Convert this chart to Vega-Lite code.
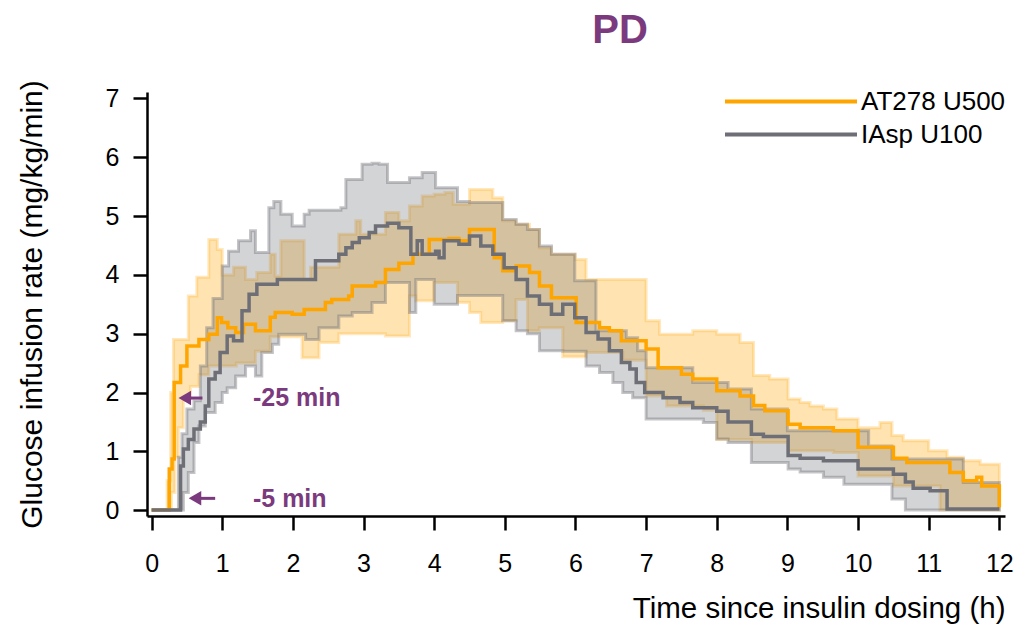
{
  "$schema": "https://vega.github.io/schema/vega-lite/v6.json",
  "width": 858,
  "height": 424,
  "autosize": {"type": "none"},
  "padding": {"left": 147, "top": 92, "right": 12, "bottom": 112},
  "background": "white",
  "config": {
    "view": {"stroke": null},
    "font": "Liberation Sans",
    "axis": {
      "domainColor": "black", "domainWidth": 2.5, "tickColor": "black", "tickWidth": 2.5,
      "tickSize": 14, "labelFontSize": 25, "labelColor": "black", "labelFont": "Liberation Sans",
      "titleFont": "Liberation Sans", "titleFontWeight": "normal", "titleColor": "black", "grid": false
    },
    "legend": {
      "orient": "none", "legendX": 576, "legendY": -6, "title": null,
      "symbolType": "M-1,0L1,0", "symbolSize": 17424, "symbolStrokeWidth": 4, "clipHeight": 31,
      "rowPadding": 2, "labelFontSize": 26, "labelFont": "Liberation Sans", "labelColor": "black",
      "labelOffset": 2, "padding": 0
    }
  },
  "title": {
    "text": "PD", "fontSize": 40, "fontWeight": "bold", "color": "#7B3A7E", "font": "Liberation Sans",
    "anchor": "middle", "frame": "group", "dx": 44, "offset": -3, "baseline": "alphabetic"
  },
  "datasets": {
    "mean": [
      {"g":"AT278 U500","t":0,"v":0},{"g":"AT278 U500","t":0.25,"v":0.7},{"g":"AT278 U500","t":0.29,"v":0.87},
      {"g":"AT278 U500","t":0.32,"v":2.17},{"g":"AT278 U500","t":0.41,"v":2.45},{"g":"AT278 U500","t":0.5,"v":2.79},
      {"g":"AT278 U500","t":0.67,"v":2.9},{"g":"AT278 U500","t":0.81,"v":2.99},{"g":"AT278 U500","t":0.93,"v":3.27},
      {"g":"AT278 U500","t":0.99,"v":3.19},{"g":"AT278 U500","t":1.08,"v":3.1},{"g":"AT278 U500","t":1.19,"v":3.02},
      {"g":"AT278 U500","t":1.3,"v":3.16},{"g":"AT278 U500","t":1.47,"v":3.05},{"g":"AT278 U500","t":1.68,"v":3.28},
      {"g":"AT278 U500","t":1.75,"v":3.36},{"g":"AT278 U500","t":1.99,"v":3.33},{"g":"AT278 U500","t":2.16,"v":3.41},
      {"g":"AT278 U500","t":2.46,"v":3.53},{"g":"AT278 U500","t":2.55,"v":3.58},{"g":"AT278 U500","t":2.79,"v":3.64},
      {"g":"AT278 U500","t":2.84,"v":3.81},{"g":"AT278 U500","t":3.17,"v":3.87},{"g":"AT278 U500","t":3.31,"v":4.09},
      {"g":"AT278 U500","t":3.5,"v":4.2},{"g":"AT278 U500","t":3.7,"v":4.35},{"g":"AT278 U500","t":3.93,"v":4.6},
      {"g":"AT278 U500","t":4.21,"v":4.62},{"g":"AT278 U500","t":4.35,"v":4.58},{"g":"AT278 U500","t":4.5,"v":4.77},
      {"g":"AT278 U500","t":4.85,"v":4.29},{"g":"AT278 U500","t":4.97,"v":4.07},{"g":"AT278 U500","t":5.16,"v":4.15},
      {"g":"AT278 U500","t":5.35,"v":4.04},{"g":"AT278 U500","t":5.49,"v":3.81},{"g":"AT278 U500","t":5.66,"v":3.61},
      {"g":"AT278 U500","t":6.01,"v":3.19},{"g":"AT278 U500","t":6.34,"v":3.1},{"g":"AT278 U500","t":6.48,"v":3.05},
      {"g":"AT278 U500","t":6.65,"v":2.88},{"g":"AT278 U500","t":7.0,"v":2.74},{"g":"AT278 U500","t":7.17,"v":2.42},
      {"g":"AT278 U500","t":7.5,"v":2.31},{"g":"AT278 U500","t":7.66,"v":2.23},{"g":"AT278 U500","t":8.0,"v":2.03},
      {"g":"AT278 U500","t":8.33,"v":1.94},{"g":"AT278 U500","t":8.52,"v":1.78},{"g":"AT278 U500","t":8.68,"v":1.69},
      {"g":"AT278 U500","t":9.01,"v":1.46},{"g":"AT278 U500","t":9.18,"v":1.4},{"g":"AT278 U500","t":9.65,"v":1.35},
      {"g":"AT278 U500","t":10.0,"v":1.07},{"g":"AT278 U500","t":10.5,"v":0.88},{"g":"AT278 U500","t":10.69,"v":0.81},
      {"g":"AT278 U500","t":11.3,"v":0.64},{"g":"AT278 U500","t":11.49,"v":0.5},{"g":"AT278 U500","t":11.68,"v":0.56},
      {"g":"AT278 U500","t":11.75,"v":0.41},{"g":"AT278 U500","t":12.0,"v":0.05},
      {"g":"IAsp U100","t":0,"v":0},{"g":"IAsp U100","t":0.41,"v":0.75},{"g":"IAsp U100","t":0.45,"v":1.04},
      {"g":"IAsp U100","t":0.52,"v":1.2},{"g":"IAsp U100","t":0.6,"v":1.38},{"g":"IAsp U100","t":0.69,"v":1.5},
      {"g":"IAsp U100","t":0.76,"v":1.77},{"g":"IAsp U100","t":0.81,"v":2.23},{"g":"IAsp U100","t":0.9,"v":2.34},
      {"g":"IAsp U100","t":0.97,"v":2.68},{"g":"IAsp U100","t":1.07,"v":2.96},{"g":"IAsp U100","t":1.16,"v":2.88},
      {"g":"IAsp U100","t":1.28,"v":3.39},{"g":"IAsp U100","t":1.38,"v":3.67},{"g":"IAsp U100","t":1.49,"v":3.84},
      {"g":"IAsp U100","t":1.78,"v":3.92},{"g":"IAsp U100","t":2.32,"v":4.24},{"g":"IAsp U100","t":2.65,"v":4.35},
      {"g":"IAsp U100","t":2.75,"v":4.46},{"g":"IAsp U100","t":2.84,"v":4.55},{"g":"IAsp U100","t":2.94,"v":4.63},
      {"g":"IAsp U100","t":3.08,"v":4.72},{"g":"IAsp U100","t":3.17,"v":4.83},{"g":"IAsp U100","t":3.34,"v":4.88},
      {"g":"IAsp U100","t":3.5,"v":4.8},{"g":"IAsp U100","t":3.67,"v":4.35},{"g":"IAsp U100","t":3.76,"v":4.58},
      {"g":"IAsp U100","t":3.83,"v":4.35},{"g":"IAsp U100","t":4.02,"v":4.4},{"g":"IAsp U100","t":4.07,"v":4.29},
      {"g":"IAsp U100","t":4.14,"v":4.58},{"g":"IAsp U100","t":4.35,"v":4.52},{"g":"IAsp U100","t":4.5,"v":4.66},
      {"g":"IAsp U100","t":4.66,"v":4.49},{"g":"IAsp U100","t":4.83,"v":4.35},{"g":"IAsp U100","t":4.99,"v":4.12},
      {"g":"IAsp U100","t":5.16,"v":3.92},{"g":"IAsp U100","t":5.32,"v":3.64},{"g":"IAsp U100","t":5.49,"v":3.5},
      {"g":"IAsp U100","t":5.66,"v":3.33},{"g":"IAsp U100","t":5.82,"v":3.5},{"g":"IAsp U100","t":5.99,"v":3.27},
      {"g":"IAsp U100","t":6.15,"v":3.02},{"g":"IAsp U100","t":6.32,"v":2.91},{"g":"IAsp U100","t":6.48,"v":2.71},
      {"g":"IAsp U100","t":6.65,"v":2.51},{"g":"IAsp U100","t":6.77,"v":2.4},{"g":"IAsp U100","t":6.86,"v":2.17},
      {"g":"IAsp U100","t":6.98,"v":2.0},{"g":"IAsp U100","t":7.24,"v":1.91},{"g":"IAsp U100","t":7.48,"v":1.83},
      {"g":"IAsp U100","t":7.66,"v":1.74},{"g":"IAsp U100","t":8.0,"v":1.68},{"g":"IAsp U100","t":8.16,"v":1.5},
      {"g":"IAsp U100","t":8.49,"v":1.29},{"g":"IAsp U100","t":8.66,"v":1.25},{"g":"IAsp U100","t":9.01,"v":0.93},
      {"g":"IAsp U100","t":9.18,"v":0.88},{"g":"IAsp U100","t":9.51,"v":0.84},{"g":"IAsp U100","t":10.0,"v":0.7},
      {"g":"IAsp U100","t":10.5,"v":0.61},{"g":"IAsp U100","t":10.67,"v":0.48},{"g":"IAsp U100","t":10.78,"v":0.37},
      {"g":"IAsp U100","t":11.02,"v":0.33},{"g":"IAsp U100","t":11.26,"v":0.02},{"g":"IAsp U100","t":12.0,"v":0.02}
    ],
    "band": [
      {"g":"AT278 U500","t":0,"lo":0,"hi":0},{"g":"AT278 U500","t":0.22,"lo":0,"hi":0.5},{"g":"AT278 U500","t":0.27,"lo":0,"hi":2.0},
      {"g":"AT278 U500","t":0.28,"lo":0.3,"hi":2.0},{"g":"AT278 U500","t":0.31,"lo":0.3,"hi":2.9},{"g":"AT278 U500","t":0.33,"lo":0.9,"hi":2.9},
      {"g":"AT278 U500","t":0.38,"lo":1.4,"hi":2.9},{"g":"AT278 U500","t":0.45,"lo":1.9,"hi":2.9},{"g":"AT278 U500","t":0.52,"lo":1.9,"hi":3.64},
      {"g":"AT278 U500","t":0.55,"lo":2.1,"hi":3.64},{"g":"AT278 U500","t":0.64,"lo":2.1,"hi":3.96},{"g":"AT278 U500","t":0.67,"lo":2.3,"hi":3.96},
      {"g":"AT278 U500","t":0.81,"lo":2.45,"hi":4.6},{"g":"AT278 U500","t":0.93,"lo":2.45,"hi":4.43},{"g":"AT278 U500","t":1.0,"lo":2.45,"hi":4.0},
      {"g":"AT278 U500","t":1.16,"lo":2.45,"hi":4.13},{"g":"AT278 U500","t":1.2,"lo":2.5,"hi":4.13},{"g":"AT278 U500","t":1.33,"lo":2.5,"hi":3.92},
      {"g":"AT278 U500","t":1.47,"lo":2.7,"hi":3.92},{"g":"AT278 U500","t":1.49,"lo":2.7,"hi":4.04},{"g":"AT278 U500","t":1.68,"lo":2.95,"hi":4.35},
      {"g":"AT278 U500","t":1.75,"lo":2.95,"hi":3.98},{"g":"AT278 U500","t":1.83,"lo":2.95,"hi":4.58},{"g":"AT278 U500","t":2.13,"lo":2.59,"hi":4.58},
      {"g":"AT278 U500","t":2.16,"lo":2.59,"hi":3.92},{"g":"AT278 U500","t":2.25,"lo":2.59,"hi":4.13},{"g":"AT278 U500","t":2.37,"lo":2.85,"hi":4.13},
      {"g":"AT278 U500","t":2.65,"lo":3.0,"hi":4.69},{"g":"AT278 U500","t":2.89,"lo":3.0,"hi":4.92},{"g":"AT278 U500","t":2.96,"lo":3.0,"hi":4.69},
      {"g":"AT278 U500","t":3.31,"lo":2.96,"hi":5.06},{"g":"AT278 U500","t":3.5,"lo":2.96,"hi":4.92},{"g":"AT278 U500","t":3.65,"lo":3.64,"hi":5.17},
      {"g":"AT278 U500","t":3.74,"lo":3.56,"hi":5.17},{"g":"AT278 U500","t":3.83,"lo":3.56,"hi":5.34},{"g":"AT278 U500","t":4.0,"lo":3.87,"hi":5.37},
      {"g":"AT278 U500","t":4.15,"lo":3.87,"hi":5.4},{"g":"AT278 U500","t":4.27,"lo":3.87,"hi":5.2},{"g":"AT278 U500","t":4.33,"lo":3.53,"hi":5.2},
      {"g":"AT278 U500","t":4.5,"lo":3.36,"hi":5.45},{"g":"AT278 U500","t":4.66,"lo":3.19,"hi":5.45},{"g":"AT278 U500","t":4.83,"lo":3.19,"hi":5.31},
      {"g":"AT278 U500","t":4.97,"lo":3.22,"hi":4.92},{"g":"AT278 U500","t":5.16,"lo":3.58,"hi":4.86},{"g":"AT278 U500","t":5.32,"lo":3.05,"hi":4.86},
      {"g":"AT278 U500","t":5.35,"lo":3.05,"hi":4.77},{"g":"AT278 U500","t":5.49,"lo":3.1,"hi":4.46},{"g":"AT278 U500","t":5.66,"lo":3.1,"hi":4.35},
      {"g":"AT278 U500","t":5.82,"lo":2.61,"hi":4.35},{"g":"AT278 U500","t":6.0,"lo":2.61,"hi":4.26},{"g":"AT278 U500","t":6.15,"lo":2.68,"hi":3.92},
      {"g":"AT278 U500","t":6.67,"lo":2.55,"hi":3.92},{"g":"AT278 U500","t":7.0,"lo":1.94,"hi":3.22},{"g":"AT278 U500","t":7.19,"lo":1.94,"hi":2.99},
      {"g":"AT278 U500","t":7.29,"lo":1.77,"hi":2.99},{"g":"AT278 U500","t":7.66,"lo":1.77,"hi":3.05},{"g":"AT278 U500","t":7.81,"lo":1.7,"hi":3.05},
      {"g":"AT278 U500","t":8.0,"lo":1.2,"hi":2.99},{"g":"AT278 U500","t":8.33,"lo":1.2,"hi":2.85},{"g":"AT278 U500","t":8.49,"lo":1.15,"hi":2.85},
      {"g":"AT278 U500","t":8.52,"lo":1.15,"hi":2.29},{"g":"AT278 U500","t":8.75,"lo":1.15,"hi":2.23},{"g":"AT278 U500","t":9.01,"lo":1.01,"hi":1.89},
      {"g":"AT278 U500","t":9.18,"lo":1.01,"hi":1.83},{"g":"AT278 U500","t":9.32,"lo":1.01,"hi":1.77},{"g":"AT278 U500","t":9.51,"lo":1.01,"hi":1.72},
      {"g":"AT278 U500","t":9.65,"lo":0.98,"hi":1.72},{"g":"AT278 U500","t":9.7,"lo":0.98,"hi":1.55},{"g":"AT278 U500","t":10.0,"lo":0.58,"hi":1.4},
      {"g":"AT278 U500","t":10.31,"lo":0.58,"hi":1.49},{"g":"AT278 U500","t":10.48,"lo":0.58,"hi":1.27},{"g":"AT278 U500","t":10.5,"lo":0.41,"hi":1.27},
      {"g":"AT278 U500","t":10.64,"lo":0.41,"hi":1.18},{"g":"AT278 U500","t":11.0,"lo":0.41,"hi":1.01},{"g":"AT278 U500","t":11.16,"lo":0,"hi":1.01},
      {"g":"AT278 U500","t":11.26,"lo":0,"hi":0.9},{"g":"AT278 U500","t":11.49,"lo":0,"hi":0.84},{"g":"AT278 U500","t":11.73,"lo":0,"hi":0.78},
      {"g":"AT278 U500","t":12.0,"lo":0,"hi":0.78},
      {"g":"IAsp U100","t":0,"lo":0,"hi":0},{"g":"IAsp U100","t":0.38,"lo":0,"hi":0.9},{"g":"IAsp U100","t":0.43,"lo":0,"hi":1.3},
      {"g":"IAsp U100","t":0.45,"lo":0.3,"hi":1.3},{"g":"IAsp U100","t":0.5,"lo":0.3,"hi":1.72},{"g":"IAsp U100","t":0.52,"lo":0.64,"hi":1.72},
      {"g":"IAsp U100","t":0.6,"lo":1.15,"hi":1.86},{"g":"IAsp U100","t":0.67,"lo":1.43,"hi":1.86},{"g":"IAsp U100","t":0.69,"lo":1.43,"hi":2.45},
      {"g":"IAsp U100","t":0.76,"lo":1.66,"hi":2.45},{"g":"IAsp U100","t":0.78,"lo":1.66,"hi":3.1},{"g":"IAsp U100","t":0.87,"lo":1.66,"hi":3.6},
      {"g":"IAsp U100","t":0.9,"lo":1.83,"hi":3.6},{"g":"IAsp U100","t":1.0,"lo":2.0,"hi":4.15},{"g":"IAsp U100","t":1.07,"lo":2.08,"hi":4.15},
      {"g":"IAsp U100","t":1.09,"lo":2.08,"hi":4.4},{"g":"IAsp U100","t":1.19,"lo":2.28,"hi":4.4},{"g":"IAsp U100","t":1.23,"lo":2.28,"hi":4.58},
      {"g":"IAsp U100","t":1.33,"lo":2.45,"hi":4.58},{"g":"IAsp U100","t":1.4,"lo":2.45,"hi":4.75},{"g":"IAsp U100","t":1.47,"lo":2.28,"hi":4.38},
      {"g":"IAsp U100","t":1.56,"lo":2.68,"hi":4.38},{"g":"IAsp U100","t":1.66,"lo":2.68,"hi":5.14},{"g":"IAsp U100","t":1.71,"lo":2.82,"hi":5.14},
      {"g":"IAsp U100","t":1.73,"lo":2.82,"hi":5.25},{"g":"IAsp U100","t":1.8,"lo":2.99,"hi":5.25},{"g":"IAsp U100","t":1.83,"lo":2.99,"hi":5.03},
      {"g":"IAsp U100","t":1.99,"lo":2.99,"hi":4.83},{"g":"IAsp U100","t":2.16,"lo":2.99,"hi":5.03},{"g":"IAsp U100","t":2.18,"lo":2.9,"hi":5.03},
      {"g":"IAsp U100","t":2.23,"lo":2.9,"hi":5.1},{"g":"IAsp U100","t":2.37,"lo":3.1,"hi":5.1},{"g":"IAsp U100","t":2.65,"lo":3.3,"hi":5.1},
      {"g":"IAsp U100","t":2.68,"lo":3.3,"hi":5.14},{"g":"IAsp U100","t":2.75,"lo":3.3,"hi":5.62},{"g":"IAsp U100","t":2.84,"lo":3.36,"hi":5.62},
      {"g":"IAsp U100","t":2.98,"lo":3.36,"hi":5.88},{"g":"IAsp U100","t":3.12,"lo":3.53,"hi":5.9},{"g":"IAsp U100","t":3.22,"lo":3.53,"hi":5.88},
      {"g":"IAsp U100","t":3.31,"lo":3.87,"hi":5.88},{"g":"IAsp U100","t":3.34,"lo":3.87,"hi":5.57},{"g":"IAsp U100","t":3.65,"lo":3.36,"hi":5.65},
      {"g":"IAsp U100","t":3.74,"lo":3.92,"hi":5.65},{"g":"IAsp U100","t":3.83,"lo":3.92,"hi":5.74},{"g":"IAsp U100","t":4.0,"lo":3.5,"hi":5.74},
      {"g":"IAsp U100","t":4.02,"lo":3.5,"hi":5.48},{"g":"IAsp U100","t":4.33,"lo":3.65,"hi":5.25},{"g":"IAsp U100","t":4.5,"lo":3.65,"hi":5.23},
      {"g":"IAsp U100","t":4.97,"lo":3.22,"hi":4.94},{"g":"IAsp U100","t":5.16,"lo":3.05,"hi":4.86},{"g":"IAsp U100","t":5.32,"lo":3.0,"hi":4.77},
      {"g":"IAsp U100","t":5.49,"lo":2.71,"hi":4.49},{"g":"IAsp U100","t":5.66,"lo":2.71,"hi":4.35},{"g":"IAsp U100","t":5.82,"lo":2.7,"hi":4.35},
      {"g":"IAsp U100","t":5.99,"lo":2.7,"hi":3.9},{"g":"IAsp U100","t":6.15,"lo":2.45,"hi":3.9},{"g":"IAsp U100","t":6.29,"lo":2.45,"hi":3.05},
      {"g":"IAsp U100","t":6.34,"lo":2.34,"hi":3.05},{"g":"IAsp U100","t":6.53,"lo":2.17,"hi":3.05},{"g":"IAsp U100","t":6.67,"lo":2.0,"hi":3.05},
      {"g":"IAsp U100","t":6.72,"lo":2.0,"hi":2.93},{"g":"IAsp U100","t":6.81,"lo":1.91,"hi":2.93},{"g":"IAsp U100","t":6.88,"lo":1.91,"hi":2.71},
      {"g":"IAsp U100","t":7.0,"lo":1.55,"hi":2.42},{"g":"IAsp U100","t":7.66,"lo":1.55,"hi":2.17},{"g":"IAsp U100","t":7.81,"lo":1.49,"hi":2.17},
      {"g":"IAsp U100","t":8.0,"lo":1.21,"hi":2.17},{"g":"IAsp U100","t":8.16,"lo":1.15,"hi":2.06},{"g":"IAsp U100","t":8.49,"lo":0.81,"hi":1.72},
      {"g":"IAsp U100","t":9.0,"lo":0.81,"hi":1.35},{"g":"IAsp U100","t":9.01,"lo":0.7,"hi":1.35},{"g":"IAsp U100","t":9.18,"lo":0.65,"hi":1.35},
      {"g":"IAsp U100","t":9.51,"lo":0.56,"hi":1.35},{"g":"IAsp U100","t":9.8,"lo":0.44,"hi":1.35},{"g":"IAsp U100","t":10.15,"lo":0.44,"hi":1.09},
      {"g":"IAsp U100","t":10.48,"lo":0.19,"hi":0.87},{"g":"IAsp U100","t":10.67,"lo":0,"hi":0.87},{"g":"IAsp U100","t":11.49,"lo":0,"hi":0.47},
      {"g":"IAsp U100","t":12.0,"lo":0,"hi":0.47}
    ],
    "arrows": [
      {"t":0.47,"t2":0.72,"v":1.906},
      {"t":0.614,"t2":0.9,"v":0.2}
    ],
    "notes": [
      {"t":1.435,"v":1.906,"label":"-25 min"},
      {"t":1.435,"v":0.19,"label":"-5 min"}
    ]
  },
  "encoding": {
    "x": {
      "field": "t", "type": "quantitative",
      "scale": {"domain": [-0.065, 12.08], "nice": false, "zero": false},
      "axis": {"values": [0,1,2,3,4,5,6,7,8,9,10,11,12], "labelPadding": 21, "title": "Time since insulin dosing (h)",
               "titleFontSize": 29.5, "titleAnchor": "end", "titlePadding": 18}
    }
  },
  "layer": [
    {
      "data": {"name": "band"},
      "transform": [{"filter": "datum.g === 'AT278 U500'"}],
      "mark": {"type": "area", "interpolate": "step-after", "fill": "#FFA500", "fillOpacity": 0.3, "stroke": "#FFA500", "strokeOpacity": 0.25, "strokeWidth": 3},
      "encoding": {
        "y": {"field": "lo", "type": "quantitative", "scale": {"domain": [-0.1, 7.11], "nice": false, "zero": false},
              "axis": {"values": [0,1,2,3,4,5,6,7], "labelPadding": 14, "title": "Glucose infusion rate (mg/kg/min)", "titleFontSize": 30, "titlePadding": 58}},
        "y2": {"field": "hi"}
      }
    },
    {
      "data": {"name": "band"},
      "transform": [{"filter": "datum.g === 'IAsp U100'"}],
      "mark": {"type": "area", "interpolate": "step-after", "fill": "#6E6F76", "fillOpacity": 0.3, "stroke": "#6E6F76", "strokeOpacity": 0.4, "strokeWidth": 3},
      "encoding": {
        "y": {"field": "lo", "type": "quantitative", "scale": {"domain": [-0.1, 7.11], "nice": false, "zero": false},
              "axis": {"values": [0,1,2,3,4,5,6,7], "labelPadding": 14, "title": "Glucose infusion rate (mg/kg/min)", "titleFontSize": 30, "titlePadding": 58}},
        "y2": {"field": "hi"}
      }
    },
    {
      "data": {"name": "mean"},
      "transform": [{"filter": "datum.g === 'AT278 U500'"}],
      "mark": {"type": "line", "interpolate": "step-after", "strokeWidth": 3.5},
      "encoding": {
        "y": {"field": "v", "type": "quantitative", "scale": {"domain": [-0.1, 7.11], "nice": false, "zero": false},
              "axis": {"values": [0,1,2,3,4,5,6,7], "labelPadding": 14, "title": "Glucose infusion rate (mg/kg/min)", "titleFontSize": 30, "titlePadding": 58}},
        "color": {"field": "g", "type": "nominal", "scale": {"domain": ["AT278 U500", "IAsp U100"], "range": ["#FFA500", "#6E6F76"]}, "legend": {}}
      }
    },
    {
      "data": {"name": "mean"},
      "transform": [{"filter": "datum.g === 'IAsp U100'"}],
      "mark": {"type": "line", "interpolate": "step-after", "strokeWidth": 3.5},
      "encoding": {
        "y": {"field": "v", "type": "quantitative", "scale": {"domain": [-0.1, 7.11], "nice": false, "zero": false},
              "axis": {"values": [0,1,2,3,4,5,6,7], "labelPadding": 14, "title": "Glucose infusion rate (mg/kg/min)", "titleFontSize": 30, "titlePadding": 58}},
        "color": {"field": "g", "type": "nominal", "scale": {"domain": ["AT278 U500", "IAsp U100"], "range": ["#FFA500", "#6E6F76"]}, "legend": {}}
      }
    },
    {
      "data": {"name": "arrows"},
      "mark": {"type": "rule", "color": "#7B3A7E", "strokeWidth": 3},
      "encoding": {
        "x2": {"field": "t2"},
        "y": {"field": "v", "type": "quantitative", "scale": {"domain": [-0.1, 7.11], "nice": false, "zero": false},
              "axis": {"values": [0,1,2,3,4,5,6,7], "labelPadding": 14, "title": "Glucose infusion rate (mg/kg/min)", "titleFontSize": 30, "titlePadding": 58}}
      }
    },
    {
      "data": {"name": "arrows"},
      "mark": {"type": "point", "shape": "triangle-left", "filled": true, "size": 210, "color": "#7B3A7E", "opacity": 1},
      "encoding": {
        "y": {"field": "v", "type": "quantitative", "scale": {"domain": [-0.1, 7.11], "nice": false, "zero": false},
              "axis": {"values": [0,1,2,3,4,5,6,7], "labelPadding": 14, "title": "Glucose infusion rate (mg/kg/min)", "titleFontSize": 30, "titlePadding": 58}}
      }
    },
    {
      "data": {"name": "notes"},
      "mark": {"type": "text", "align": "left", "baseline": "middle", "fontSize": 25, "fontWeight": "bold", "color": "#7B3A7E", "font": "Liberation Sans"},
      "encoding": {
        "y": {"field": "v", "type": "quantitative", "scale": {"domain": [-0.1, 7.11], "nice": false, "zero": false},
              "axis": {"values": [0,1,2,3,4,5,6,7], "labelPadding": 14, "title": "Glucose infusion rate (mg/kg/min)", "titleFontSize": 30, "titlePadding": 58}},
        "text": {"field": "label"}
      }
    }
  ]
}
